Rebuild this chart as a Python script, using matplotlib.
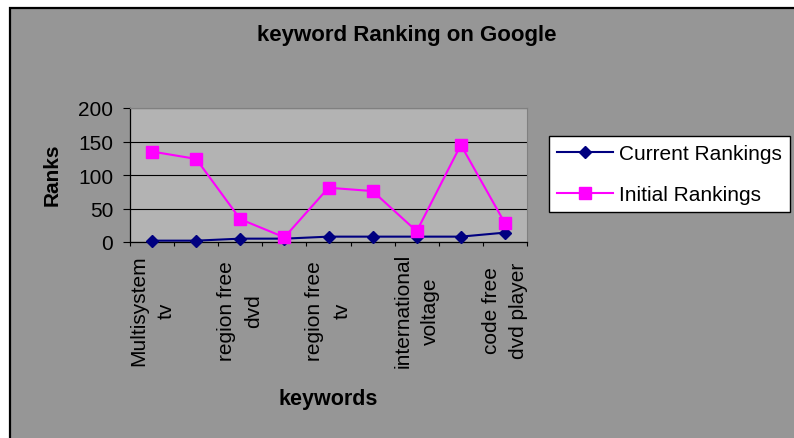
import matplotlib
matplotlib.use("Agg")
import matplotlib.pyplot as plt
from matplotlib.patches import Rectangle
import numpy as np

plt.rcParams['font.family'] = ['Liberation Sans', 'DejaVu Sans']

# data (Excel skips every other category label)
keywords = ["Multisystem\ntv", "", "region free\ndvd", "", "region free\ntv", "",
            "international\nvoltage", "", "code free\ndvd player"]
current_rankings = [2, 2, 5, 5, 8, 8, 8, 8, 14]
initial_rankings = [135, 124, 34, 7, 81, 76, 16, 145, 28]
y_ticks = [0, 50, 100, 150, 200]

W, H = 794, 439
fig = plt.figure(figsize=(W / 100, H / 100), dpi=100, facecolor="white")

# chart area: gray with black frame (cropped at right/bottom)
fig.patches.append(Rectangle((9.5 / W, -0.1), 1.2, 1 - 9 / H + 0.1, transform=fig.transFigure,
                             facecolor="#969696", edgecolor="black", linewidth=1.6, zorder=-10))

ax = fig.add_axes([130 / W, 1 - 243 / H, 397 / W, 134 / H])
ax.set_facecolor("#b3b3b3")

x = np.arange(1, len(keywords) + 1)
ax.plot(x, current_rankings, color="#000080", lw=1.5, marker="D", ms=6.2,
        label="Current Rankings", zorder=3, clip_on=False)
ax.plot(x, initial_rankings, color="#ff00ff", lw=1.5, marker="s", ms=8.4,
        label="Initial Rankings", zorder=4, clip_on=False)

ax.set_xlim(0.5, len(keywords) + 0.5)
ax.set_ylim(0, 200)
ax.set_yticks(y_ticks)
ax.yaxis.grid(True, color="black", lw=0.8)
ax.set_axisbelow(True)

ax.set_xticks(x)
ax.set_xticks(np.arange(0.5, len(keywords) + 1), minor=True)
ax.set_xticklabels(keywords, rotation=90, va="center", ha="center",
                   multialignment="center", linespacing=1.55)
ax.tick_params(axis="x", which="major", length=0, pad=49, labelsize=15)
ax.tick_params(axis="x", which="minor", length=3, width=0.8, direction="out")
ax.tick_params(axis="y", length=5, width=0.8, direction="out", labelsize=15, pad=7)

for side in ["top", "right"]:
    ax.spines[side].set_color("#808080")
ax.spines["left"].set_linewidth(0.9)
ax.spines["bottom"].set_linewidth(0.9)

ax.set_ylabel("Ranks", fontsize=15, fontweight="bold", va="center")
ax.yaxis.set_label_coords(-0.197, 0.507)
ax.set_xlabel("keywords", fontsize=15.5, fontweight="bold", va="center")
ax.xaxis.set_label_coords(0.5, -1.17)

fig.text(407 / W, 1 - 35 / H, "keyword Ranking on Google", fontsize=16, fontweight="bold",
         ha="center", va="center")

leg = fig.legend(loc="upper left", bbox_to_anchor=(549 / W, 1 - 137 / H), fontsize=15,
                 frameon=True, fancybox=False, framealpha=1, edgecolor="black",
                 handlelength=2.67, handletextpad=0.3, borderpad=0.38, labelspacing=1.05,
                 borderaxespad=0)
leg.get_frame().set_linewidth(1.0)

fig.savefig("out.png", dpi=100, facecolor=fig.get_facecolor())
